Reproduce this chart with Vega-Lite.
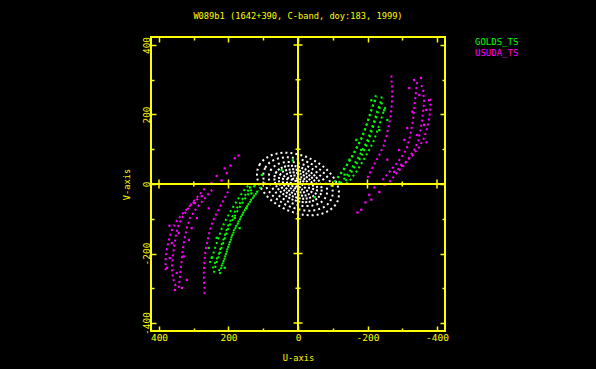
{
  "$schema": "https://vega.github.io/schema/vega-lite/v6.json",
  "width": 294,
  "height": 294,
  "autosize": {"type": "none"},
  "padding": {"left": 151, "top": 37, "right": 151, "bottom": 38},
  "background": "#000000",
  "title": {"text": "W089b1 (1642+390, C-band, doy:183, 1999)", "color": "#ffff00", "font": "DejaVu Sans Mono", "fontSize": 8.7, "fontWeight": "normal", "anchor": "middle", "offset": 8, "baseline": "alphabetic"},
  "config": {
    "view": {"stroke": "#ffff00", "strokeWidth": 2},
    "axis": {"domain": false, "grid": false, "tickColor": "#ffff00", "tickWidth": 1.5, "labelColor": "#ffff00", "titleColor": "#ffff00", "labelFont": "DejaVu Sans Mono", "labelFontSize": 9.5, "titleFont": "DejaVu Sans Mono", "titleFontSize": 8.7, "titleFontWeight": "normal"}
  },
  "datasets": {
    "white": [
      {"ring":1,"t":0,"u":118,"v":28},{"ring":1,"t":20,"u":111,"v":55},{"ring":1,"t":40,"u":90,"v":76},{"ring":1,"t":60,"u":59,"v":88},{"ring":1,"t":80,"u":21,"v":89},{"ring":1,"t":100,"u":-21,"v":79},{"ring":1,"t":120,"u":-59,"v":60},{"ring":1,"t":140,"u":-90,"v":34},{"ring":1,"t":160,"u":-111,"v":3},{"ring":1,"t":180,"u":-118,"v":-28},{"ring":1,"t":200,"u":-111,"v":-55},{"ring":1,"t":220,"u":-90,"v":-76},{"ring":1,"t":240,"u":-59,"v":-88},{"ring":1,"t":260,"u":-21,"v":-89},{"ring":1,"t":280,"u":21,"v":-79},{"ring":1,"t":300,"u":59,"v":-60},{"ring":1,"t":320,"u":90,"v":-34},{"ring":1,"t":340,"u":111,"v":-3},
      {"ring":2,"t":0,"u":100,"v":24},{"ring":2,"t":20,"u":94,"v":47},{"ring":2,"t":40,"u":77,"v":65},{"ring":2,"t":60,"u":50,"v":75},{"ring":2,"t":80,"u":18,"v":76},{"ring":2,"t":100,"u":-18,"v":67},{"ring":2,"t":120,"u":-50,"v":51},{"ring":2,"t":140,"u":-77,"v":29},{"ring":2,"t":160,"u":-94,"v":3},{"ring":2,"t":180,"u":-100,"v":-24},{"ring":2,"t":200,"u":-94,"v":-47},{"ring":2,"t":220,"u":-77,"v":-65},{"ring":2,"t":240,"u":-50,"v":-75},{"ring":2,"t":260,"u":-18,"v":-76},{"ring":2,"t":280,"u":18,"v":-67},{"ring":2,"t":300,"u":50,"v":-51},{"ring":2,"t":320,"u":77,"v":-29},{"ring":2,"t":340,"u":94,"v":-3},
      {"ring":3,"t":0,"u":84,"v":20},{"ring":3,"t":20,"u":79,"v":39},{"ring":3,"t":40,"u":64,"v":54},{"ring":3,"t":60,"u":42,"v":62},{"ring":3,"t":80,"u":15,"v":63},{"ring":3,"t":100,"u":-15,"v":56},{"ring":3,"t":120,"u":-42,"v":43},{"ring":3,"t":140,"u":-64,"v":24},{"ring":3,"t":160,"u":-79,"v":2},{"ring":3,"t":180,"u":-84,"v":-20},{"ring":3,"t":200,"u":-79,"v":-39},{"ring":3,"t":220,"u":-64,"v":-54},{"ring":3,"t":240,"u":-42,"v":-62},{"ring":3,"t":260,"u":-15,"v":-63},{"ring":3,"t":280,"u":15,"v":-56},{"ring":3,"t":300,"u":42,"v":-43},{"ring":3,"t":320,"u":64,"v":-24},{"ring":3,"t":340,"u":79,"v":-2}
    ],
    "whiteCore": [
      {"ring":4,"t":0,"u":68,"v":16},{"ring":4,"t":20,"u":64,"v":32},{"ring":4,"t":40,"u":52,"v":44},{"ring":4,"t":60,"u":34,"v":51},{"ring":4,"t":80,"u":12,"v":52},{"ring":4,"t":100,"u":-12,"v":46},{"ring":4,"t":120,"u":-34,"v":35},{"ring":4,"t":140,"u":-52,"v":20},{"ring":4,"t":160,"u":-64,"v":2},{"ring":4,"t":180,"u":-68,"v":-16},{"ring":4,"t":200,"u":-64,"v":-32},{"ring":4,"t":220,"u":-52,"v":-44},{"ring":4,"t":240,"u":-34,"v":-51},{"ring":4,"t":260,"u":-12,"v":-52},{"ring":4,"t":280,"u":12,"v":-46},{"ring":4,"t":300,"u":34,"v":-35},{"ring":4,"t":320,"u":52,"v":-20},{"ring":4,"t":340,"u":64,"v":-2},
      {"ring":5,"t":0,"u":55,"v":13},{"ring":5,"t":20,"u":52,"v":26},{"ring":5,"t":40,"u":42,"v":36},{"ring":5,"t":60,"u":28,"v":41},{"ring":5,"t":80,"u":10,"v":42},{"ring":5,"t":100,"u":-10,"v":37},{"ring":5,"t":120,"u":-28,"v":28},{"ring":5,"t":140,"u":-42,"v":16},{"ring":5,"t":160,"u":-52,"v":1},{"ring":5,"t":180,"u":-55,"v":-13},{"ring":5,"t":200,"u":-52,"v":-26},{"ring":5,"t":220,"u":-42,"v":-36},{"ring":5,"t":240,"u":-28,"v":-41},{"ring":5,"t":260,"u":-10,"v":-42},{"ring":5,"t":280,"u":10,"v":-37},{"ring":5,"t":300,"u":28,"v":-28},{"ring":5,"t":320,"u":42,"v":-16},{"ring":5,"t":340,"u":52,"v":-1},
      {"ring":6,"t":0,"u":44,"v":10},{"ring":6,"t":20,"u":41,"v":20},{"ring":6,"t":40,"u":33,"v":28},{"ring":6,"t":60,"u":22,"v":33},{"ring":6,"t":80,"u":8,"v":33},{"ring":6,"t":100,"u":-8,"v":29},{"ring":6,"t":120,"u":-22,"v":22},{"ring":6,"t":140,"u":-33,"v":13},{"ring":6,"t":160,"u":-41,"v":1},{"ring":6,"t":180,"u":-44,"v":-10},{"ring":6,"t":200,"u":-41,"v":-20},{"ring":6,"t":220,"u":-33,"v":-28},{"ring":6,"t":240,"u":-22,"v":-33},{"ring":6,"t":260,"u":-8,"v":-33},{"ring":6,"t":280,"u":8,"v":-29},{"ring":6,"t":300,"u":22,"v":-22},{"ring":6,"t":320,"u":33,"v":-13},{"ring":6,"t":340,"u":41,"v":-1},
      {"ring":7,"t":0,"u":32,"v":8},{"ring":7,"t":20,"u":30,"v":15},{"ring":7,"t":40,"u":24,"v":21},{"ring":7,"t":60,"u":16,"v":24},{"ring":7,"t":80,"u":6,"v":24},{"ring":7,"t":100,"u":-6,"v":21},{"ring":7,"t":120,"u":-16,"v":16},{"ring":7,"t":140,"u":-24,"v":9},{"ring":7,"t":160,"u":-30,"v":1},{"ring":7,"t":180,"u":-32,"v":-8},{"ring":7,"t":200,"u":-30,"v":-15},{"ring":7,"t":220,"u":-24,"v":-21},{"ring":7,"t":240,"u":-16,"v":-24},{"ring":7,"t":260,"u":-6,"v":-24},{"ring":7,"t":280,"u":6,"v":-21},{"ring":7,"t":300,"u":16,"v":-16},{"ring":7,"t":320,"u":24,"v":-9},{"ring":7,"t":340,"u":30,"v":-1},
      {"ring":8,"t":0,"u":21,"v":5},{"ring":8,"t":40,"u":16,"v":14},{"ring":8,"t":80,"u":4,"v":16},{"ring":8,"t":120,"u":-11,"v":11},{"ring":8,"t":160,"u":-20,"v":1},{"ring":8,"t":200,"u":-20,"v":-10},{"ring":8,"t":240,"u":-11,"v":-16},{"ring":8,"t":280,"u":4,"v":-14},{"ring":8,"t":320,"u":16,"v":-6},
      {"ring":9,"t":0,"u":12,"v":3},{"ring":9,"t":60,"u":6,"v":9},{"ring":9,"t":120,"u":-6,"v":6},{"ring":9,"t":180,"u":-12,"v":-3},{"ring":9,"t":240,"u":-6,"v":-9},{"ring":9,"t":300,"u":6,"v":-6}
    ],
    "tracks": [
      {"baseline":"GOLDS_TS","track":"g1","u":-105,"v":6},{"baseline":"GOLDS_TS","track":"g1","u":-119,"v":24},{"baseline":"GOLDS_TS","track":"g1","u":-134,"v":44},{"baseline":"GOLDS_TS","track":"g1","u":-148,"v":66},{"baseline":"GOLDS_TS","track":"g1","u":-162,"v":90},{"baseline":"GOLDS_TS","track":"g1","u":-174,"v":113},{"baseline":"GOLDS_TS","track":"g1","u":-185,"v":135},{"baseline":"GOLDS_TS","track":"g1","u":-194,"v":162},{"baseline":"GOLDS_TS","track":"g1","u":-203,"v":187},{"baseline":"GOLDS_TS","track":"g1","u":-211,"v":213},{"baseline":"GOLDS_TS","track":"g1","u":-220,"v":238},{"baseline":"GOLDS_TS","track":"g1","u":-225,"v":259},
      {"baseline":"GOLDS_TS","track":"g2","u":-122,"v":2},{"baseline":"GOLDS_TS","track":"g2","u":-136,"v":19},{"baseline":"GOLDS_TS","track":"g2","u":-151,"v":40},{"baseline":"GOLDS_TS","track":"g2","u":-165,"v":62},{"baseline":"GOLDS_TS","track":"g2","u":-179,"v":86},{"baseline":"GOLDS_TS","track":"g2","u":-191,"v":108},{"baseline":"GOLDS_TS","track":"g2","u":-202,"v":131},{"baseline":"GOLDS_TS","track":"g2","u":-211,"v":158},{"baseline":"GOLDS_TS","track":"g2","u":-220,"v":183},{"baseline":"GOLDS_TS","track":"g2","u":-228,"v":209},{"baseline":"GOLDS_TS","track":"g2","u":-237,"v":234},{"baseline":"GOLDS_TS","track":"g2","u":-242,"v":255},
      {"baseline":"GOLDS_TS","track":"g3","u":-139,"v":0},{"baseline":"GOLDS_TS","track":"g3","u":-153,"v":15},{"baseline":"GOLDS_TS","track":"g3","u":-168,"v":36},{"baseline":"GOLDS_TS","track":"g3","u":-182,"v":58},{"baseline":"GOLDS_TS","track":"g3","u":-196,"v":82},{"baseline":"GOLDS_TS","track":"g3","u":-208,"v":104},{"baseline":"GOLDS_TS","track":"g3","u":-219,"v":127},{"baseline":"GOLDS_TS","track":"g3","u":-228,"v":153},{"baseline":"GOLDS_TS","track":"g3","u":-237,"v":179},{"baseline":"GOLDS_TS","track":"g3","u":-245,"v":205},{"baseline":"GOLDS_TS","track":"g3","u":-254,"v":227},
      {"baseline":"GOLDS_TS","track":"g4","u":-114,"v":18},{"baseline":"GOLDS_TS","track":"g4","u":-128,"v":38},{"baseline":"GOLDS_TS","track":"g4","u":-142,"v":57},{"baseline":"GOLDS_TS","track":"g4","u":-157,"v":82},{"baseline":"GOLDS_TS","track":"g4","u":-168,"v":104},{"baseline":"GOLDS_TS","track":"g4","u":-180,"v":127},{"baseline":"GOLDS_TS","track":"g4","u":-191,"v":152},{"baseline":"GOLDS_TS","track":"g4","u":-200,"v":178},{"baseline":"GOLDS_TS","track":"g4","u":-208,"v":204},{"baseline":"GOLDS_TS","track":"g4","u":-217,"v":230},{"baseline":"GOLDS_TS","track":"g4","u":-228,"v":250},
      {"baseline":"GOLDS_TS","track":"g5","u":-137,"v":9},{"baseline":"GOLDS_TS","track":"g5","u":-151,"v":30},{"baseline":"GOLDS_TS","track":"g5","u":-165,"v":52},{"baseline":"GOLDS_TS","track":"g5","u":-180,"v":76},{"baseline":"GOLDS_TS","track":"g5","u":-191,"v":98},{"baseline":"GOLDS_TS","track":"g5","u":-203,"v":124},{"baseline":"GOLDS_TS","track":"g5","u":-211,"v":149},{"baseline":"GOLDS_TS","track":"g5","u":-220,"v":175},{"baseline":"GOLDS_TS","track":"g5","u":-228,"v":202},{"baseline":"GOLDS_TS","track":"g5","u":-237,"v":223},{"baseline":"GOLDS_TS","track":"g5","u":-246,"v":243},
      {"baseline":"GOLDS_TS","track":"g6","u":105,"v":-6},{"baseline":"GOLDS_TS","track":"g6","u":119,"v":-24},{"baseline":"GOLDS_TS","track":"g6","u":134,"v":-44},{"baseline":"GOLDS_TS","track":"g6","u":148,"v":-66},{"baseline":"GOLDS_TS","track":"g6","u":162,"v":-90},{"baseline":"GOLDS_TS","track":"g6","u":174,"v":-113},{"baseline":"GOLDS_TS","track":"g6","u":185,"v":-135},{"baseline":"GOLDS_TS","track":"g6","u":194,"v":-162},{"baseline":"GOLDS_TS","track":"g6","u":203,"v":-187},{"baseline":"GOLDS_TS","track":"g6","u":211,"v":-213},{"baseline":"GOLDS_TS","track":"g6","u":220,"v":-238},{"baseline":"GOLDS_TS","track":"g6","u":225,"v":-259},
      {"baseline":"GOLDS_TS","track":"g7","u":122,"v":-2},{"baseline":"GOLDS_TS","track":"g7","u":136,"v":-19},{"baseline":"GOLDS_TS","track":"g7","u":151,"v":-40},{"baseline":"GOLDS_TS","track":"g7","u":165,"v":-62},{"baseline":"GOLDS_TS","track":"g7","u":179,"v":-86},{"baseline":"GOLDS_TS","track":"g7","u":191,"v":-108},{"baseline":"GOLDS_TS","track":"g7","u":202,"v":-131},{"baseline":"GOLDS_TS","track":"g7","u":211,"v":-158},{"baseline":"GOLDS_TS","track":"g7","u":220,"v":-183},{"baseline":"GOLDS_TS","track":"g7","u":228,"v":-209},{"baseline":"GOLDS_TS","track":"g7","u":237,"v":-234},{"baseline":"GOLDS_TS","track":"g7","u":242,"v":-255},
      {"baseline":"GOLDS_TS","track":"g8","u":139,"v":0},{"baseline":"GOLDS_TS","track":"g8","u":153,"v":-15},{"baseline":"GOLDS_TS","track":"g8","u":168,"v":-36},{"baseline":"GOLDS_TS","track":"g8","u":182,"v":-58},{"baseline":"GOLDS_TS","track":"g8","u":196,"v":-82},{"baseline":"GOLDS_TS","track":"g8","u":208,"v":-104},{"baseline":"GOLDS_TS","track":"g8","u":219,"v":-127},{"baseline":"GOLDS_TS","track":"g8","u":228,"v":-153},{"baseline":"GOLDS_TS","track":"g8","u":237,"v":-179},{"baseline":"GOLDS_TS","track":"g8","u":245,"v":-205},{"baseline":"GOLDS_TS","track":"g8","u":254,"v":-227},
      {"baseline":"GOLDS_TS","track":"g9","u":114,"v":-18},{"baseline":"GOLDS_TS","track":"g9","u":128,"v":-38},{"baseline":"GOLDS_TS","track":"g9","u":142,"v":-57},{"baseline":"GOLDS_TS","track":"g9","u":157,"v":-82},{"baseline":"GOLDS_TS","track":"g9","u":168,"v":-104},{"baseline":"GOLDS_TS","track":"g9","u":180,"v":-127},{"baseline":"GOLDS_TS","track":"g9","u":191,"v":-152},{"baseline":"GOLDS_TS","track":"g9","u":200,"v":-178},{"baseline":"GOLDS_TS","track":"g9","u":208,"v":-204},{"baseline":"GOLDS_TS","track":"g9","u":217,"v":-230},{"baseline":"GOLDS_TS","track":"g9","u":228,"v":-250},
      {"baseline":"GOLDS_TS","track":"g10","u":137,"v":-9},{"baseline":"GOLDS_TS","track":"g10","u":151,"v":-30},{"baseline":"GOLDS_TS","track":"g10","u":165,"v":-52},{"baseline":"GOLDS_TS","track":"g10","u":180,"v":-76},{"baseline":"GOLDS_TS","track":"g10","u":191,"v":-98},{"baseline":"GOLDS_TS","track":"g10","u":203,"v":-124},{"baseline":"GOLDS_TS","track":"g10","u":211,"v":-149},{"baseline":"GOLDS_TS","track":"g10","u":220,"v":-175},{"baseline":"GOLDS_TS","track":"g10","u":228,"v":-202},{"baseline":"GOLDS_TS","track":"g10","u":237,"v":-223},{"baseline":"GOLDS_TS","track":"g10","u":246,"v":-243},
      {"baseline":"USUDA_TS","track":"m1","u":-200,"v":18},{"baseline":"USUDA_TS","track":"m1","u":-211,"v":41},{"baseline":"USUDA_TS","track":"m1","u":-223,"v":63},{"baseline":"USUDA_TS","track":"m1","u":-234,"v":84},{"baseline":"USUDA_TS","track":"m1","u":-246,"v":109},{"baseline":"USUDA_TS","track":"m1","u":-254,"v":135},{"baseline":"USUDA_TS","track":"m1","u":-260,"v":162},{"baseline":"USUDA_TS","track":"m1","u":-266,"v":190},{"baseline":"USUDA_TS","track":"m1","u":-269,"v":219},{"baseline":"USUDA_TS","track":"m1","u":-271,"v":248},{"baseline":"USUDA_TS","track":"m1","u":-271,"v":276},{"baseline":"USUDA_TS","track":"m1","u":-269,"v":299},{"baseline":"USUDA_TS","track":"m1","u":-269,"v":316},
      {"baseline":"USUDA_TS","track":"m2","u":-243,"v":12},{"baseline":"USUDA_TS","track":"m2","u":-263,"v":35},{"baseline":"USUDA_TS","track":"m2","u":-280,"v":55},{"baseline":"USUDA_TS","track":"m2","u":-297,"v":76},{"baseline":"USUDA_TS","track":"m2","u":-311,"v":98},{"baseline":"USUDA_TS","track":"m2","u":-320,"v":127},{"baseline":"USUDA_TS","track":"m2","u":-326,"v":155},{"baseline":"USUDA_TS","track":"m2","u":-331,"v":184},{"baseline":"USUDA_TS","track":"m2","u":-334,"v":213},{"baseline":"USUDA_TS","track":"m2","u":-337,"v":241},{"baseline":"USUDA_TS","track":"m2","u":-340,"v":270},{"baseline":"USUDA_TS","track":"m2","u":-343,"v":299},
      {"baseline":"USUDA_TS","track":"m3","u":-263,"v":6},{"baseline":"USUDA_TS","track":"m3","u":-283,"v":30},{"baseline":"USUDA_TS","track":"m3","u":-303,"v":52},{"baseline":"USUDA_TS","track":"m3","u":-320,"v":76},{"baseline":"USUDA_TS","track":"m3","u":-334,"v":98},{"baseline":"USUDA_TS","track":"m3","u":-346,"v":124},{"baseline":"USUDA_TS","track":"m3","u":-352,"v":152},{"baseline":"USUDA_TS","track":"m3","u":-357,"v":181},{"baseline":"USUDA_TS","track":"m3","u":-360,"v":210},{"baseline":"USUDA_TS","track":"m3","u":-363,"v":238},{"baseline":"USUDA_TS","track":"m3","u":-360,"v":270},{"baseline":"USUDA_TS","track":"m3","u":-352,"v":293},
      {"baseline":"USUDA_TS","track":"m4","u":-286,"v":41},{"baseline":"USUDA_TS","track":"m4","u":-309,"v":61},{"baseline":"USUDA_TS","track":"m4","u":-331,"v":84},{"baseline":"USUDA_TS","track":"m4","u":-349,"v":106},{"baseline":"USUDA_TS","track":"m4","u":-363,"v":133},{"baseline":"USUDA_TS","track":"m4","u":-372,"v":162},{"baseline":"USUDA_TS","track":"m4","u":-378,"v":190},{"baseline":"USUDA_TS","track":"m4","u":-381,"v":219},{"baseline":"USUDA_TS","track":"m4","u":-381,"v":248},
      {"baseline":"USUDA_TS","track":"m5","u":200,"v":-18},{"baseline":"USUDA_TS","track":"m5","u":211,"v":-41},{"baseline":"USUDA_TS","track":"m5","u":223,"v":-63},{"baseline":"USUDA_TS","track":"m5","u":234,"v":-84},{"baseline":"USUDA_TS","track":"m5","u":246,"v":-109},{"baseline":"USUDA_TS","track":"m5","u":254,"v":-135},{"baseline":"USUDA_TS","track":"m5","u":260,"v":-162},{"baseline":"USUDA_TS","track":"m5","u":266,"v":-190},{"baseline":"USUDA_TS","track":"m5","u":269,"v":-219},{"baseline":"USUDA_TS","track":"m5","u":271,"v":-248},{"baseline":"USUDA_TS","track":"m5","u":271,"v":-276},{"baseline":"USUDA_TS","track":"m5","u":269,"v":-299},{"baseline":"USUDA_TS","track":"m5","u":269,"v":-316},
      {"baseline":"USUDA_TS","track":"m6","u":243,"v":-12},{"baseline":"USUDA_TS","track":"m6","u":263,"v":-35},{"baseline":"USUDA_TS","track":"m6","u":280,"v":-55},{"baseline":"USUDA_TS","track":"m6","u":297,"v":-76},{"baseline":"USUDA_TS","track":"m6","u":311,"v":-98},{"baseline":"USUDA_TS","track":"m6","u":320,"v":-127},{"baseline":"USUDA_TS","track":"m6","u":326,"v":-155},{"baseline":"USUDA_TS","track":"m6","u":331,"v":-184},{"baseline":"USUDA_TS","track":"m6","u":334,"v":-213},{"baseline":"USUDA_TS","track":"m6","u":337,"v":-241},{"baseline":"USUDA_TS","track":"m6","u":340,"v":-270},{"baseline":"USUDA_TS","track":"m6","u":343,"v":-299},
      {"baseline":"USUDA_TS","track":"m7","u":263,"v":-6},{"baseline":"USUDA_TS","track":"m7","u":283,"v":-30},{"baseline":"USUDA_TS","track":"m7","u":303,"v":-52},{"baseline":"USUDA_TS","track":"m7","u":320,"v":-76},{"baseline":"USUDA_TS","track":"m7","u":334,"v":-98},{"baseline":"USUDA_TS","track":"m7","u":346,"v":-124},{"baseline":"USUDA_TS","track":"m7","u":352,"v":-152},{"baseline":"USUDA_TS","track":"m7","u":357,"v":-181},{"baseline":"USUDA_TS","track":"m7","u":360,"v":-210},{"baseline":"USUDA_TS","track":"m7","u":363,"v":-238},{"baseline":"USUDA_TS","track":"m7","u":360,"v":-270},{"baseline":"USUDA_TS","track":"m7","u":352,"v":-293},
      {"baseline":"USUDA_TS","track":"m8","u":286,"v":-41},{"baseline":"USUDA_TS","track":"m8","u":309,"v":-61},{"baseline":"USUDA_TS","track":"m8","u":331,"v":-84},{"baseline":"USUDA_TS","track":"m8","u":349,"v":-106},{"baseline":"USUDA_TS","track":"m8","u":363,"v":-133},{"baseline":"USUDA_TS","track":"m8","u":372,"v":-162},{"baseline":"USUDA_TS","track":"m8","u":378,"v":-190},{"baseline":"USUDA_TS","track":"m8","u":381,"v":-219},{"baseline":"USUDA_TS","track":"m8","u":381,"v":-248}
    ],
    "scatter": [
      {"baseline":"GOLDS_TS","u":104,"v":26},{"baseline":"GOLDS_TS","u":47,"v":40},{"baseline":"GOLDS_TS","u":15,"v":68},{"baseline":"GOLDS_TS","u":-48,"v":-38},{"baseline":"GOLDS_TS","u":-99,"v":-5},{"baseline":"GOLDS_TS","u":124,"v":-2},{"baseline":"GOLDS_TS","u":138,"v":-10},{"baseline":"GOLDS_TS","u":-119,"v":6},
      {"baseline":"GOLDS_TS","u":-148,"v":70},{"baseline":"GOLDS_TS","u":-168,"v":127},{"baseline":"GOLDS_TS","u":-248,"v":212},{"baseline":"GOLDS_TS","u":-257,"v":184},{"baseline":"GOLDS_TS","u":-134,"v":27},{"baseline":"GOLDS_TS","u":-211,"v":241},{"baseline":"GOLDS_TS","u":-182,"v":98},{"baseline":"GOLDS_TS","u":-234,"v":155},
      {"baseline":"GOLDS_TS","u":148,"v":-70},{"baseline":"GOLDS_TS","u":168,"v":-127},{"baseline":"GOLDS_TS","u":248,"v":-212},{"baseline":"GOLDS_TS","u":257,"v":-184},{"baseline":"GOLDS_TS","u":134,"v":-27},{"baseline":"GOLDS_TS","u":211,"v":-241},{"baseline":"GOLDS_TS","u":182,"v":-98},{"baseline":"GOLDS_TS","u":234,"v":-155},
      {"baseline":"USUDA_TS","u":-220,"v":-10},{"baseline":"USUDA_TS","u":-205,"v":-31},{"baseline":"USUDA_TS","u":-194,"v":-53},{"baseline":"USUDA_TS","u":-182,"v":-74},{"baseline":"USUDA_TS","u":-211,"v":-45},{"baseline":"USUDA_TS","u":-234,"v":-23},{"baseline":"USUDA_TS","u":-171,"v":-82},{"baseline":"USUDA_TS","u":-249,"v":-2},
      {"baseline":"USUDA_TS","u":220,"v":10},{"baseline":"USUDA_TS","u":205,"v":31},{"baseline":"USUDA_TS","u":194,"v":53},{"baseline":"USUDA_TS","u":182,"v":74},{"baseline":"USUDA_TS","u":211,"v":45},{"baseline":"USUDA_TS","u":234,"v":23},{"baseline":"USUDA_TS","u":171,"v":82},{"baseline":"USUDA_TS","u":249,"v":2},
      {"baseline":"USUDA_TS","u":-291,"v":98},{"baseline":"USUDA_TS","u":-306,"v":127},{"baseline":"USUDA_TS","u":-329,"v":208},{"baseline":"USUDA_TS","u":-369,"v":213},{"baseline":"USUDA_TS","u":-349,"v":256},{"baseline":"USUDA_TS","u":-320,"v":276},{"baseline":"USUDA_TS","u":-363,"v":170},{"baseline":"USUDA_TS","u":-343,"v":141},{"baseline":"USUDA_TS","u":-297,"v":55},{"baseline":"USUDA_TS","u":-277,"v":35},{"baseline":"USUDA_TS","u":-257,"v":70},{"baseline":"USUDA_TS","u":-377,"v":241},{"baseline":"USUDA_TS","u":-334,"v":299},{"baseline":"USUDA_TS","u":-354,"v":305},{"baseline":"USUDA_TS","u":-314,"v":161},{"baseline":"USUDA_TS","u":-370,"v":120},
      {"baseline":"USUDA_TS","u":291,"v":-98},{"baseline":"USUDA_TS","u":306,"v":-127},{"baseline":"USUDA_TS","u":329,"v":-208},{"baseline":"USUDA_TS","u":369,"v":-213},{"baseline":"USUDA_TS","u":349,"v":-256},{"baseline":"USUDA_TS","u":320,"v":-276},{"baseline":"USUDA_TS","u":363,"v":-170},{"baseline":"USUDA_TS","u":343,"v":-141},{"baseline":"USUDA_TS","u":297,"v":-55},{"baseline":"USUDA_TS","u":277,"v":-35},{"baseline":"USUDA_TS","u":257,"v":-70},{"baseline":"USUDA_TS","u":377,"v":-241},{"baseline":"USUDA_TS","u":334,"v":-299},{"baseline":"USUDA_TS","u":354,"v":-305},{"baseline":"USUDA_TS","u":314,"v":-161},{"baseline":"USUDA_TS","u":370,"v":-120}
    ],
    "zero": [{"p":0}],
    "zmajor": [{"p":-400},{"p":-200},{"p":200},{"p":400}],
    "zminor": [{"p":-300},{"p":-100},{"p":100},{"p":300}]
  },
  "layer": [
    {
      "data": {"name": "white"},
      "mark": {"type": "line", "interpolate": "cardinal-closed", "color": "#ffffff", "strokeWidth": 2, "strokeDash": [2, 3]},
      "encoding": {
        "x": {"field": "u", "type": "quantitative", "scale": {"domain": [-423, 423], "reverse": true, "nice": false, "zero": false},
          "axis": {"orient": "bottom", "values": [-400,-300,-200,-100,0,100,200,300,400], "labelExpr": "datum.value % 200 == 0 ? '' + datum.value : ''", "tickSize": {"condition": {"test": "datum.value % 200 == 0", "value": -5}, "value": -3}, "labelPadding": 6, "labelFlush": false, "labelOverlap": false, "title": "U-axis", "titlePadding": 10}},
        "y": {"field": "v", "type": "quantitative", "scale": {"domain": [-423, 423], "nice": false, "zero": false},
          "axis": {"orient": "left", "values": [-400,-300,-200,-100,0,100,200,300,400], "labelExpr": "datum.value % 200 == 0 ? '' + datum.value : ''", "tickSize": {"condition": {"test": "datum.value % 200 == 0", "value": -5}, "value": -3}, "labelAngle": -90, "labelAlign": "center", "labelBaseline": "bottom", "labelPadding": 5, "labelFlush": false, "labelOverlap": false, "title": "V-axis", "titlePadding": 8}},
        "detail": {"field": "ring", "type": "nominal"},
        "order": {"field": "t", "type": "quantitative"}
      }
    },
    {
      "data": {"name": "whiteCore"},
      "mark": {"type": "line", "interpolate": "cardinal-closed", "color": "#ffffff", "strokeWidth": 2, "strokeDash": [2, 1.5]},
      "encoding": {
        "x": {"field": "u", "type": "quantitative", "axis": null},
        "y": {"field": "v", "type": "quantitative", "axis": null},
        "detail": {"field": "ring", "type": "nominal"},
        "order": {"field": "t", "type": "quantitative"}
      }
    },
    {
      "data": {"name": "tracks"},
      "mark": {"type": "line", "strokeWidth": 2, "strokeDash": [2, 3]},
      "encoding": {
        "x": {"field": "u", "type": "quantitative", "axis": null},
        "y": {"field": "v", "type": "quantitative", "axis": null},
        "detail": {"field": "track", "type": "nominal"},
        "order": {"field": "v", "type": "quantitative"},
        "color": {"field": "baseline", "type": "nominal", "scale": {"domain": ["GOLDS_TS", "USUDA_TS"], "range": ["#00ff00", "#ff00ff"]},
          "legend": {"orient": "none", "legendX": 315, "legendY": 0, "title": null, "symbolSize": 0, "symbolOpacity": 0, "symbolStrokeWidth": 0, "labelOffset": 0, "labelFont": "DejaVu Sans Mono", "labelFontSize": 9, "rowPadding": 1, "labelColor": {"expr": "datum.label == 'GOLDS_TS' ? '#00ff00' : '#ff00ff'"}}}
      }
    },
    {
      "data": {"name": "scatter"},
      "mark": {"type": "square", "size": 5, "opacity": 1, "strokeWidth": 0},
      "encoding": {
        "x": {"field": "u", "type": "quantitative", "axis": null},
        "y": {"field": "v", "type": "quantitative", "axis": null},
        "color": {"field": "baseline", "type": "nominal",
          "legend": {"orient": "none", "legendX": 315, "legendY": 0, "title": null, "symbolSize": 0, "symbolOpacity": 0, "symbolStrokeWidth": 0, "labelOffset": 0, "labelFont": "DejaVu Sans Mono", "labelFontSize": 9, "rowPadding": 1, "labelColor": {"expr": "datum.label == 'GOLDS_TS' ? '#00ff00' : '#ff00ff'"}}}
      }
    },
    {
      "data": {"name": "zero"},
      "mark": {"type": "rule", "color": "#ffff00", "strokeWidth": 2},
      "encoding": {"x": {"field": "p", "type": "quantitative", "axis": null}}
    },
    {
      "data": {"name": "zero"},
      "mark": {"type": "rule", "color": "#ffff00", "strokeWidth": 2},
      "encoding": {"y": {"field": "p", "type": "quantitative", "axis": null}}
    },
    {
      "data": {"name": "zmajor"},
      "mark": {"type": "tick", "orient": "vertical", "size": 9, "thickness": 1.5, "color": "#ffff00", "opacity": 1},
      "encoding": {
        "x": {"field": "p", "type": "quantitative", "axis": {"orient": "top", "values": [-400,-300,-200,-100,0,100,200,300,400], "labels": false, "title": null, "tickSize": {"condition": {"test": "datum.value % 200 == 0", "value": -5}, "value": -3}}},
        "y": {"datum": 0, "type": "quantitative", "axis": null}
      }
    },
    {
      "data": {"name": "zminor"},
      "mark": {"type": "tick", "orient": "vertical", "size": 5, "thickness": 1.5, "color": "#ffff00", "opacity": 1},
      "encoding": {
        "x": {"field": "p", "type": "quantitative", "axis": null},
        "y": {"datum": 0, "type": "quantitative", "axis": null}
      }
    },
    {
      "data": {"name": "zmajor"},
      "mark": {"type": "tick", "orient": "horizontal", "size": 9, "thickness": 1.5, "color": "#ffff00", "opacity": 1},
      "encoding": {
        "x": {"datum": 0, "type": "quantitative", "axis": null},
        "y": {"field": "p", "type": "quantitative", "axis": {"orient": "right", "values": [-400,-300,-200,-100,0,100,200,300,400], "labels": false, "title": null, "tickSize": {"condition": {"test": "datum.value % 200 == 0", "value": -5}, "value": -3}}}
      }
    },
    {
      "data": {"name": "zminor"},
      "mark": {"type": "tick", "orient": "horizontal", "size": 5, "thickness": 1.5, "color": "#ffff00", "opacity": 1},
      "encoding": {
        "x": {"datum": 0, "type": "quantitative", "axis": null},
        "y": {"field": "p", "type": "quantitative", "axis": null}
      }
    }
  ],
  "resolve": {"axis": {"x": "independent", "y": "independent"}}
}
